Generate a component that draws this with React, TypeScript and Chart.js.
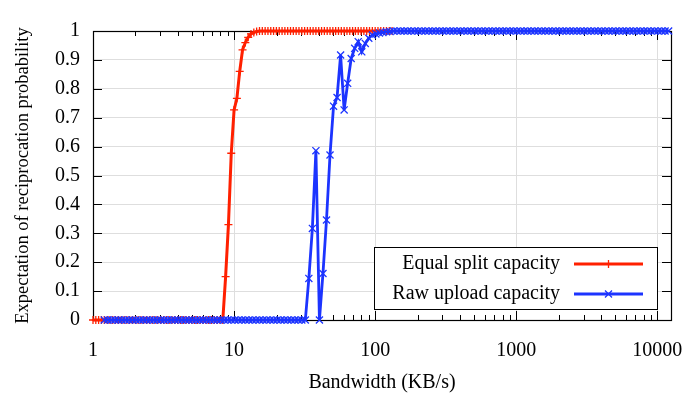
import React, { useEffect, useRef } from 'react';
import { Chart, registerables } from 'chart.js';

Chart.register(...registerables);

const FONT = '"Liberation Serif", "Times New Roman", serif';

const seriesNames = ['Equal split capacity', 'Raw upload capacity'];
const seriesColors = ['rgb(255,32,0)', 'rgb(28,52,255)'];

// Equal split capacity: bandwidth (KB/s) and probability
const redX = [
  1, 1.047, 1.096, 1.148, 1.202, 1.259, 1.318, 1.38, 1.445, 1.514,
  1.585, 1.66, 1.738, 1.82, 1.905, 1.995, 2.089, 2.188, 2.291, 2.399,
  2.512, 2.63, 2.754, 2.884, 3.02, 3.162, 3.311, 3.467, 3.631, 3.802,
  3.981, 4.169, 4.365, 4.571, 4.786, 5.012, 5.248, 5.495, 5.754, 6.026,
  6.31, 6.607, 6.918, 7.244, 7.586, 7.943, 8.318, 8.71, 9.12, 9.55,
  10, 10.47, 10.96, 11.48, 12.02, 12.59, 13.18, 13.8, 14.45, 15.14,
  15.85, 16.6, 17.38, 18.2, 19.05, 19.95, 20.89, 21.88, 22.91, 23.99,
  25.12, 26.3, 27.54, 28.84, 30.2, 31.62, 33.11, 34.67, 36.31, 38.02,
  39.81, 41.69, 43.65, 45.71, 47.86, 50.12, 52.48, 54.95, 57.54, 60.26,
  63.1, 66.07, 69.18, 72.44, 75.86, 79.43, 83.18, 87.1, 91.2, 95.5,
  100, 104.7, 109.6, 114.8, 120.2, 125.9, 131.8,
];
const redY = [
  0, 0, 0, 0, 0, 0, 0, 0, 0, 0,
  0, 0, 0, 0, 0, 0, 0, 0, 0, 0,
  0, 0, 0, 0, 0, 0, 0, 0, 0, 0,
  0, 0, 0, 0, 0, 0, 0, 0, 0, 0,
  0, 0, 0, 0, 0, 0, 0, 0.15, 0.33, 0.577,
  0.727, 0.767, 0.86, 0.935, 0.96, 0.978, 0.99, 0.995, 0.998, 1,
  1, 1, 1, 1, 1, 1, 1, 1, 1, 1,
  1, 1, 1, 1, 1, 1, 1, 1, 1, 1,
  1, 1, 1, 1, 1, 1, 1, 1, 1, 1,
  1, 1, 1, 1, 1, 1, 1, 1, 1, 1,
  1, 1, 1, 1, 1, 1, 1,
];

// Raw upload capacity: bandwidth (KB/s) and probability
const blueX = [
  1.202, 1.274, 1.349, 1.429, 1.514, 1.603, 1.698, 1.799, 1.905, 2.018,
  2.138, 2.265, 2.399, 2.541, 2.692, 2.851, 3.02, 3.199, 3.388, 3.589,
  3.802, 4.027, 4.266, 4.519, 4.786, 5.07, 5.37, 5.689, 6.026, 6.383,
  6.761, 7.161, 7.586, 8.035, 8.511, 9.016, 9.55,
  10.12, 10.72, 11.35, 12.02, 12.74, 13.49, 14.29, 15.14, 16.03, 16.98,
  17.99, 19.05, 20.18, 21.38, 22.65, 23.99, 25.41, 26.92, 28.51, 30.2,
  31.99, 33.88, 35.89, 38.02, 40.27, 42.66, 45.19, 47.86, 50.7, 53.7,
  56.89, 60.26, 63.83, 67.61, 71.61, 75.86, 80.35, 85.11, 90.16, 95.5,
  101.2, 107.2, 113.5, 120.2, 127.4, 134.9, 142.9, 151.4, 160.3, 169.8,
  179.9, 190.5, 201.8, 213.8, 226.5, 239.9, 254.1, 269.2, 285.1, 302,
  319.9, 338.8, 358.9, 380.2, 402.7, 426.6, 451.9, 478.6, 507, 537,
  568.9, 602.6, 638.3, 676.1, 716.1, 758.6, 803.5, 851.1, 901.6, 955,
  1012, 1072, 1135, 1202, 1274, 1349, 1429, 1514, 1603, 1698,
  1799, 1905, 2018, 2138, 2265, 2399, 2541, 2692, 2851, 3020,
  3199, 3388, 3589, 3802, 4027, 4266, 4519, 4786, 5070, 5370,
  5689, 6026, 6383, 6761, 7161, 7586, 8035, 8511, 9016, 9550,
  10116, 10715, 11350, 12023,
];
const blueY = [
  0, 0, 0, 0, 0, 0, 0, 0, 0, 0,
  0, 0, 0, 0, 0, 0, 0, 0, 0, 0,
  0, 0, 0, 0, 0, 0, 0, 0, 0, 0,
  0, 0, 0, 0, 0, 0, 0,
  0, 0, 0, 0, 0, 0, 0, 0, 0, 0,
  0, 0, 0, 0, 0, 0, 0, 0, 0, 0,
  0, 0.144, 0.317, 0.586, 0, 0.161, 0.346, 0.571, 0.74, 0.77,
  0.917, 0.727, 0.819, 0.905, 0.94, 0.963, 0.928, 0.957, 0.975, 0.986,
  0.99, 0.993, 0.995, 0.997, 0.998, 1, 1, 1, 1, 1,
  1, 1, 1, 1, 1, 1, 1, 1, 1, 1,
  1, 1, 1, 1, 1, 1, 1, 1, 1, 1,
  1, 1, 1, 1, 1, 1, 1, 1, 1, 1,
  1, 1, 1, 1, 1, 1, 1, 1, 1, 1,
  1, 1, 1, 1, 1, 1, 1, 1, 1, 1,
  1, 1, 1, 1, 1, 1, 1, 1, 1, 1,
  1, 1, 1, 1, 1, 1, 1, 1, 1, 1,
  1, 1, 1, 1,
];

const xMajorTicks = [1, 10, 100, 1000, 10000];
const xMinorTicks = [
  2, 3, 4, 5, 6, 7, 8, 9,
  20, 30, 40, 50, 60, 70, 80, 90,
  200, 300, 400, 500, 600, 700, 800, 900,
  2000, 3000, 4000, 5000, 6000, 7000, 8000, 9000,
];
const xMin = 1;
const xMax = 12500;
const yMin = 0;
const yMax = 1;
const yStep = 0.1;

const xTitle = 'Bandwidth (KB/s)';
const yTitle = 'Expectation of reciprocation probability';

const framePlugin = {
  id: 'gnuFrame',
  beforeDatasetsDraw(chart: any) {
    const { ctx, chartArea: a, scales } = chart;
    const xs = scales.x;
    const ys = scales.y;
    ctx.save();
    ctx.strokeStyle = '#000';
    ctx.lineWidth = 1;
    ctx.beginPath();
    const major = 9;
    const minor = 5;
    for (const v of xMajorTicks) {
      const px = Math.round(xs.getPixelForValue(v)) + 0.5;
      ctx.moveTo(px, a.bottom);
      ctx.lineTo(px, a.bottom - major);
      ctx.moveTo(px, a.top);
      ctx.lineTo(px, a.top + major);
    }
    for (const v of xMinorTicks) {
      const px = Math.round(xs.getPixelForValue(v)) + 0.5;
      ctx.moveTo(px, a.bottom);
      ctx.lineTo(px, a.bottom - minor);
      ctx.moveTo(px, a.top);
      ctx.lineTo(px, a.top + minor);
    }
    for (const t of ys.ticks) {
      const py = Math.round(ys.getPixelForValue(t.value)) + 0.5;
      ctx.moveTo(a.left, py);
      ctx.lineTo(a.left + major, py);
      ctx.moveTo(a.right, py);
      ctx.lineTo(a.right - major, py);
    }
    ctx.stroke();
    ctx.lineWidth = 1.2;
    ctx.strokeRect(Math.round(a.left) + 0.5, Math.round(a.top) + 0.5, Math.round(a.width), Math.round(a.height));
    ctx.restore();
  },
  afterDatasetsDraw(chart: any) {
    const { ctx, chartArea: a } = chart;
    const boxL = a.right - 297;
    const boxR = a.right - 14;
    const boxT = a.bottom - 73;
    const boxB = a.bottom - 11;
    ctx.save();
    ctx.fillStyle = '#fff';
    ctx.fillRect(boxL, boxT, boxR - boxL, boxB - boxT);
    ctx.strokeStyle = '#000';
    ctx.lineWidth = 1;
    ctx.strokeRect(Math.round(boxL) + 0.5, Math.round(boxT) + 0.5, Math.round(boxR - boxL), Math.round(boxB - boxT));
    ctx.font = `20px ${FONT}`;
    ctx.textAlign = 'right';
    ctx.textBaseline = 'middle';
    const rows = [boxT + 17, boxT + 47];
    const textR = boxL + 186;
    const lineL = boxL + 200;
    const lineR = boxL + 269;
    seriesNames.forEach((name, i) => {
      const y = rows[i];
      ctx.fillStyle = '#000';
      ctx.fillText(name, textR, y);
      ctx.strokeStyle = seriesColors[i];
      ctx.lineWidth = 2.8;
      ctx.beginPath();
      ctx.moveTo(lineL, y);
      ctx.lineTo(lineR, y);
      ctx.stroke();
      const cx = (lineL + lineR) / 2;
      ctx.lineWidth = 1.3;
      ctx.beginPath();
      if (i === 0) {
        ctx.moveTo(cx, y - 4);
        ctx.lineTo(cx, y + 4);
        ctx.moveTo(cx - 4, y);
        ctx.lineTo(cx + 4, y);
      } else {
        ctx.moveTo(cx - 3.5, y - 3.5);
        ctx.lineTo(cx + 3.5, y + 3.5);
        ctx.moveTo(cx - 3.5, y + 3.5);
        ctx.lineTo(cx + 3.5, y - 3.5);
      }
      ctx.stroke();
    });
    ctx.restore();
  },
};

export default function App() {
  const canvasRef = useRef<HTMLCanvasElement | null>(null);

  useEffect(() => {
    document.body.style.margin = '0';
    const canvas = canvasRef.current;
    if (!canvas) return;
    const chart = new Chart(canvas, {
      type: 'line',
      data: {
        datasets: [
          {
            label: seriesNames[1],
            data: blueX.map((x, i) => ({ x, y: blueY[i] })),
            borderColor: seriesColors[1],
            backgroundColor: seriesColors[1],
            borderWidth: 2.8,
            pointStyle: 'crossRot',
            pointRadius: 5,
            pointBorderWidth: 1.3,
            pointBorderColor: seriesColors[1],
            fill: false,
            tension: 0,
            clip: false,
          },
          {
            label: seriesNames[0],
            data: redX.map((x, i) => ({ x, y: redY[i] })),
            borderColor: seriesColors[0],
            backgroundColor: seriesColors[0],
            borderWidth: 3,
            pointStyle: 'cross',
            pointRadius: 4,
            pointBorderWidth: 1.3,
            pointBorderColor: seriesColors[0],
            fill: false,
            tension: 0,
            clip: false,
          },
        ],
      },
      options: {
        responsive: false,
        animation: false,
        devicePixelRatio: 1,
        layout: { padding: { top: 31, right: 29, left: 0, bottom: 0 } },
        plugins: {
          legend: { display: false },
          tooltip: { enabled: false },
        },
        scales: {
          x: {
            type: 'logarithmic',
            min: xMin,
            max: xMax,
            afterBuildTicks: (scale: any) => {
              scale.ticks = xMajorTicks.map((v) => ({ value: v }));
            },
            afterFit: (scale: any) => {
              scale.height = 77;
              scale.paddingLeft = 0;
              scale.paddingRight = 0;
            },
            grid: { color: '#dedede', lineWidth: 1, drawTicks: false },
            border: { display: false },
            ticks: {
              autoSkip: false,
              maxRotation: 0,
              padding: 19,
              color: '#000',
              font: { family: FONT, size: 20 },
              callback: (v: any) => String(v),
            },
            title: {
              display: true,
              text: xTitle,
              color: '#000',
              font: { family: FONT, size: 20 },
              padding: { top: 0, bottom: 2 },
            },
          },
          y: {
            type: 'linear',
            min: yMin,
            max: yMax,
            afterFit: (scale: any) => {
              scale.width = 93;
              scale.paddingTop = 0;
              scale.paddingBottom = 0;
            },
            grid: { color: '#dedede', lineWidth: 1, drawTicks: false },
            border: { display: false },
            ticks: {
              stepSize: yStep,
              padding: 13,
              color: '#000',
              font: { family: FONT, size: 20 },
              callback: (v: any) => String(Math.round(Number(v) * 10) / 10),
            },
            title: {
              display: true,
              text: yTitle,
              color: '#000',
              font: { family: FONT, size: 18.5 },
              padding: { top: 12, bottom: 0 },
            },
          },
        },
      },
      plugins: [framePlugin],
    } as any);
    return () => chart.destroy();
  }, []);

  return (
    <div style={{ width: 700, height: 397 }}>
      <canvas ref={canvasRef} width={700} height={397} style={{ display: 'block' }} />
    </div>
  );
}
